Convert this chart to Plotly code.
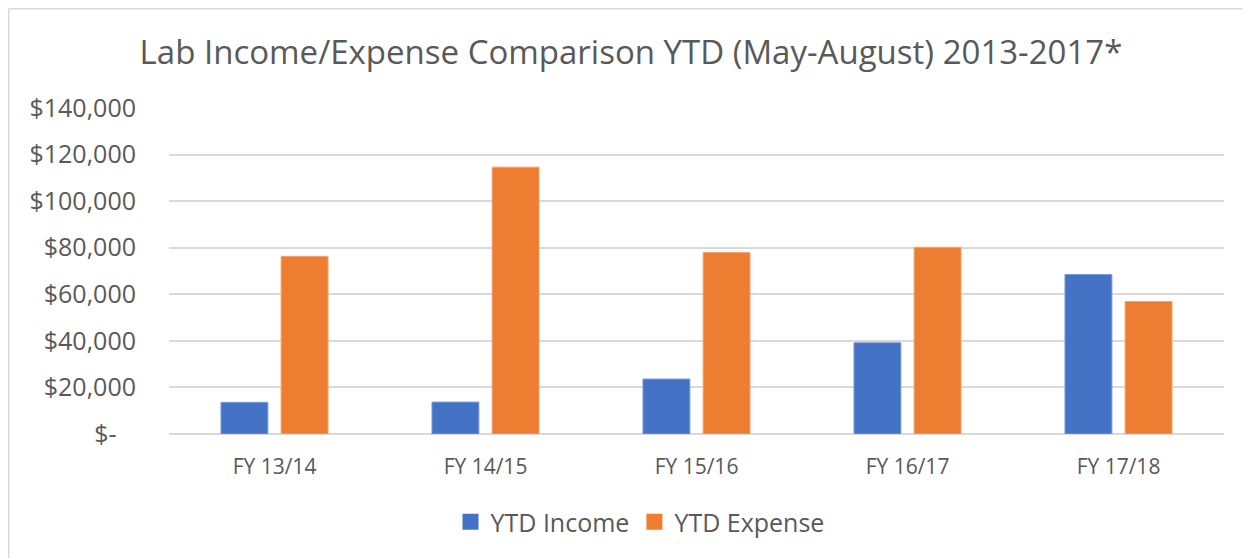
import plotly.graph_objects as go

categories = ["FY 13/14", "FY 14/15", "FY 15/16", "FY 16/17", "FY 17/18"]
ytd_income = [13600, 13700, 23600, 39200, 68500]
ytd_expense = [76300, 114600, 77900, 80200, 56900]
tick_vals = [0, 20000, 40000, 60000, 80000, 100000, 120000, 140000]
tick_text = ["$-\u00a0\u00a0\u00a0", "$20,000", "$40,000", "$60,000", "$80,000",
             "$100,000", "$120,000", "$140,000"]

FONT = "Open Sans"
GREY = "#595959"
BLUE = "#4472C4"
ORANGE = "#ED7D31"

fig = go.Figure()
fig.add_trace(go.Bar(name="YTD Income", x=categories, y=ytd_income, showlegend=False,
                     marker=dict(color=BLUE, line=dict(color="#7a9bd6", width=1))))
fig.add_trace(go.Bar(name="YTD Expense", x=categories, y=ytd_expense, showlegend=False,
                     marker=dict(color=ORANGE, line=dict(color="#f3a46f", width=1))))
# legend entries with larger square swatches
for name, col in [("YTD Income", BLUE), ("YTD Expense", ORANGE)]:
    fig.add_trace(go.Scatter(name=name, x=[None], y=[None], mode="markers",
                             marker=dict(symbol="square", size=16, color=col),
                             hoverinfo="skip"))

# page has an 8px body margin; figure sized/offset to compensate
OFF = 8
W, H = 1250 - OFF, 558 - OFF
L, R, T, B = 169 - OFF, 26, 108 - OFF, 124
pw, ph = W - L - R, H - T - B
Y0 = 434 - OFF  # figure-pixel row of the zero line

fig.update_layout(
    width=W, height=H, autosize=False,
    margin=dict(l=L, r=R, t=T, b=B, autoexpand=False),
    paper_bgcolor="white", plot_bgcolor="white",
    barmode="group", bargap=0.43, bargroupgap=0.22,
    title=dict(text="Lab Income/Expense Comparison YTD (May-August) 2013-2017*",
               x=(631 - 169) / pw, xref="paper", xanchor="center",
               y=1 - (52 - OFF) / H, yanchor="middle",
               font=dict(family=FONT, size=33, color=GREY)),
    font=dict(family=FONT, color=GREY),
    legend=dict(orientation="h", x=(640 - 169) / pw, xanchor="center", xref="paper",
                y=(434 - 522) / ph, yanchor="middle", yref="paper",
                font=dict(family=FONT, size=25, color=GREY),
                itemwidth=30, traceorder="normal", bgcolor="rgba(0,0,0,0)"),
    showlegend=True,
)
fig.update_xaxes(showgrid=False, showline=False, ticks="",
                 ticklabelstandoff=18,
                 tickfont=dict(family=FONT, size=21, color=GREY))
fig.update_yaxes(range=[0, 140000], tickvals=tick_vals, ticktext=tick_text,
                 showgrid=True, gridcolor="#d9d9d9", gridwidth=1.5,
                 zeroline=True, zerolinecolor="#d9d9d9", zerolinewidth=1.5,
                 showline=False, ticks="", ticklabelstandoff=32,
                 tickfont=dict(family=FONT, size=25, color=GREY))

# chart frame (top and left edges visible)
fx = (0.75 - L) / pw
fy = (Y0 - 0.75) / ph
fig.add_shape(type="line", xref="paper", yref="paper",
              x0=fx, x1=(W - L) / pw, y0=fy, y1=fy,
              line=dict(color="#d9d9d9", width=1.5), layer="below")
fig.add_shape(type="line", xref="paper", yref="paper",
              x0=fx, x1=fx, y0=fy, y1=(Y0 - H) / ph,
              line=dict(color="#d9d9d9", width=1.5), layer="below")

fig.write_html("out.html")
